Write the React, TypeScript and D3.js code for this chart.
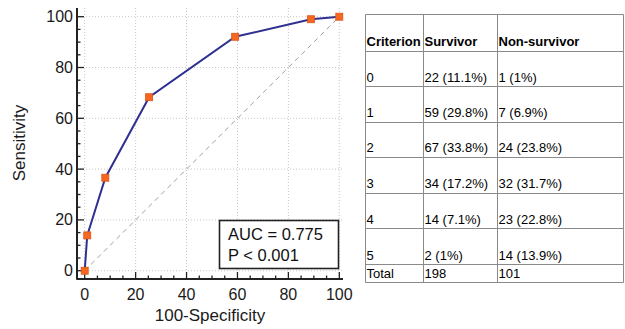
import React, { useEffect, useRef } from "react";
import * as d3 from "d3";

// ROC points (100-Specificity, Sensitivity)
const fpr = [0, 1.0, 8.1, 25.3, 59.1, 88.9, 100];
const tpr = [0, 13.9, 36.6, 68.3, 92.1, 99.0, 100];
const majorTicks = [0, 20, 40, 60, 80, 100];
const minorTicks = d3.range(0, 101, 5).filter(v => v % 20 !== 0);

// table
const tableHeader = ["Criterion", "Survivor", "Non-survivor"];
const criteria = ["0", "1", "2", "3", "4", "5", "Total"];
const survivor = ["22 (11.1%)", "59 (29.8%)", "67 (33.8%)", "34 (17.2%)", "14 (7.1%)", "2 (1%)", "198"];
const nonSurvivor = ["1 (1%)", "7 (6.9%)", "24 (23.8%)", "32 (31.7%)", "23 (22.8%)", "14 (13.9%)", "101"];

const App = () => {
  const svgRef = useRef<SVGSVGElement>(null);
  const width = 625, height = 329;

  useEffect(() => {
    const svg = d3.select(svgRef.current);
    svg.selectAll("*").remove();

    const font = "'Liberation Sans', Arial, sans-serif";
    const x = d3.scaleLinear().domain([0, 100]).range([84.7, 339.3]);
    const y = d3.scaleLinear().domain([0, 100]).range([270.7, 16.7]);
    const left = 77, right = 343, top = 8, bottom = 279;

    // grid
    const grid = svg.append("g").attr("stroke", "#c8c8c8").attr("stroke-width", 1).attr("stroke-dasharray", "1,2");
    majorTicks.forEach(t => {
      grid.append("line").attr("x1", x(t)).attr("x2", x(t)).attr("y1", top).attr("y2", bottom);
      grid.append("line").attr("x1", left).attr("x2", right).attr("y1", y(t)).attr("y2", y(t));
    });

    // diagonal reference
    svg.append("line")
      .attr("x1", x(0)).attr("y1", y(0)).attr("x2", x(100)).attr("y2", y(100))
      .attr("stroke", "#a0a0a0").attr("stroke-width", 1).attr("stroke-dasharray", "5,4");

    // axes frame
    svg.append("line").attr("x1", left).attr("x2", left).attr("y1", top).attr("y2", bottom + 0.5)
      .attr("stroke", "#222").attr("stroke-width", 2);
    svg.append("line").attr("x1", left - 0.5).attr("x2", right).attr("y1", bottom).attr("y2", bottom)
      .attr("stroke", "#222").attr("stroke-width", 2);

    // ticks (inward)
    const ticks = svg.append("g").attr("stroke", "#222").attr("stroke-width", 1.3);
    majorTicks.forEach(t => {
      ticks.append("line").attr("x1", left).attr("x2", left + 7).attr("y1", y(t)).attr("y2", y(t));
      ticks.append("line").attr("x1", x(t)).attr("x2", x(t)).attr("y1", bottom).attr("y2", bottom - 7);
    });
    minorTicks.forEach(t => {
      ticks.append("line").attr("x1", left).attr("x2", left + 3.5).attr("y1", y(t)).attr("y2", y(t));
      ticks.append("line").attr("x1", x(t)).attr("x2", x(t)).attr("y1", bottom).attr("y2", bottom - 3.5);
    });

    // tick labels
    majorTicks.forEach(t => {
      svg.append("text").attr("x", 73).attr("y", y(t) + 5.5).attr("text-anchor", "end")
        .style("font-family", font).style("font-size", "16px").attr("fill", "#1a1a1a").text(t);
      svg.append("text").attr("x", x(t)).attr("y", 300).attr("text-anchor", "middle")
        .style("font-family", font).style("font-size", "16px").attr("fill", "#1a1a1a").text(t);
    });

    // axis titles
    svg.append("text").attr("x", 210).attr("y", 321).attr("text-anchor", "middle")
      .style("font-family", font).style("font-size", "17px").attr("fill", "#1a1a1a").text("100-Specificity");
    svg.append("text").attr("transform", "translate(25,143) rotate(-90)").attr("text-anchor", "middle")
      .style("font-family", font).style("font-size", "17px").attr("fill", "#1a1a1a").text("Sensitivity");

    // ROC curve
    const pts = fpr.map((f, i) => [f, tpr[i]] as [number, number]);
    const line = d3.line<[number, number]>().x(d => x(d[0])).y(d => y(d[1]));
    svg.append("path").datum(pts).attr("d", line).attr("fill", "none")
      .attr("stroke", "#2e3192").attr("stroke-width", 2);
    svg.append("g").selectAll("rect").data(pts).enter().append("rect")
      .attr("x", d => x(d[0]) - 3.5).attr("y", d => y(d[1]) - 3.5)
      .attr("width", 7).attr("height", 7)
      .attr("fill", "#f7681e").attr("stroke", "#d9541a").attr("stroke-width", 0.8);

    // AUC box
    svg.append("rect").attr("x", 219.5).attr("y", 220.5).attr("width", 119).attr("height", 48)
      .attr("fill", "#fff").attr("stroke", "#222").attr("stroke-width", 1.6);
    svg.append("text").attr("x", 228).attr("y", 240)
      .style("font-family", font).style("font-size", "16.5px").attr("fill", "#111").text("AUC = 0.775");
    svg.append("text").attr("x", 228).attr("y", 261)
      .style("font-family", font).style("font-size", "16.5px").attr("fill", "#111").text("P < 0.001");

    // table
    const colX = [365.5, 423.5, 497.5, 623.5];
    const rowY = [14, 50.7, 86, 121.7, 156.9, 192.5, 228.3, 264.3, 282.3];
    const tg = svg.append("g");
    const tfont = "'Liberation Sans', Arial, sans-serif";
    rowY.forEach(r => {
      tg.append("line").attr("x1", colX[0]).attr("x2", colX[3]).attr("y1", Math.round(r) + 0.5).attr("y2", Math.round(r) + 0.5)
        .attr("stroke", "#8a8a8a").attr("stroke-width", 1);
    });
    colX.forEach(c => {
      tg.append("line").attr("x1", c).attr("x2", c).attr("y1", Math.round(rowY[0]) + 0.5).attr("y2", Math.round(rowY[rowY.length - 1]) + 0.5)
        .attr("stroke", "#8a8a8a").attr("stroke-width", 1);
    });
    tableHeader.forEach((h, j) => {
      tg.append("text").attr("x", colX[j] + 1).attr("y", rowY[1] - 4.5)
        .style("font-family", tfont).style("font-size", "13px").style("font-weight", "bold")
        .attr("fill", "#000").text(h);
    });
    criteria.forEach((c, i) => {
      const base = rowY[i + 2] - 4.5;
      [c, survivor[i], nonSurvivor[i]].forEach((v, j) => {
        tg.append("text").attr("x", colX[j] + 1).attr("y", base)
          .style("font-family", tfont).style("font-size", "13px")
          .attr("fill", "#000").text(v);
      });
    });
  }, []);

  return (
    <svg ref={svgRef} width={width} height={height}
      style={{ position: "absolute", left: 0, top: 0, background: "#fff" }}></svg>
  );
};

export default App;
